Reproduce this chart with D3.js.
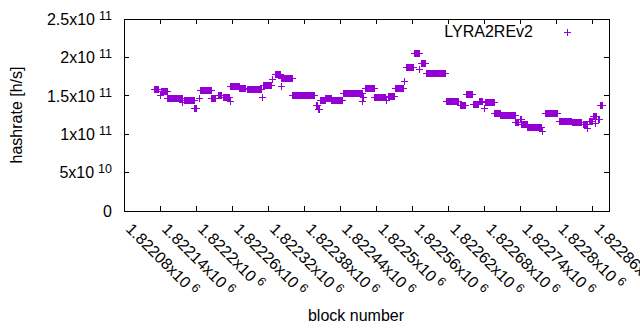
<!DOCTYPE html>
<html>
<head>
<meta charset="utf-8">
<script src="https://d3js.org/d3.v7.min.js"></script>
<style>
body { margin: 0; background: #fff; }
svg { font-family: 'Liberation Sans', Arial, sans-serif; }
.lbl { font-size: 16px; fill: #000; }
</style>
</head>
<body>
<svg id="chart"></svg>
<script>

// runs of consecutive blocks with the same hashrate (each block is one point)
var runStart = [
  1822130, 1822140, 1822143, 1822153, 1822178, 1822180, 1822198, 1822205, 1822207, 1822226,
  1822238, 1822245, 1822257, 1822258, 1822273, 1822285, 1822310, 1822312, 1822327, 1822332,
  1822342, 1822343, 1822361, 1822400, 1822404, 1822407, 1822416, 1822426, 1822445, 1822478,
  1822479, 1822482, 1822498, 1822517, 1822520, 1822532, 1822547, 1822550, 1822564, 1822573,
  1822575, 1822584, 1822617, 1822640, 1822650, 1822662, 1822672, 1822680, 1822682, 1822698,
  1822708, 1822733, 1822740, 1822743, 1822753, 1822777, 1822783, 1822805, 1822828, 1822845,
  1822853, 1822856, 1822862, 1822865, 1822870, 1822874];
var runEnd = [
  1822137, 1822140, 1822152, 1822177, 1822178, 1822197, 1822200, 1822205, 1822225, 1822233,
  1822242, 1822255, 1822257, 1822272, 1822283, 1822309, 1822310, 1822326, 1822327, 1822340,
  1822342, 1822360, 1822398, 1822403, 1822406, 1822415, 1822425, 1822444, 1822477, 1822478,
  1822479, 1822498, 1822516, 1822517, 1822531, 1822546, 1822547, 1822562, 1822572, 1822573,
  1822583, 1822616, 1822637, 1822649, 1822660, 1822671, 1822678, 1822680, 1822697, 1822707,
  1822732, 1822738, 1822742, 1822752, 1822776, 1822777, 1822802, 1822825, 1822843, 1822852,
  1822853, 1822860, 1822868, 1822865, 1822873, 1822877];
var runHash = [
  1.58e11, 1.51e11, 1.56e11, 1.46e11, 1.41e11, 1.44e11, 1.33e11, 1.46e11, 1.57e11, 1.47e11,
  1.51e11, 1.48e11, 1.42e11, 1.615e11, 1.595e11, 1.58e11, 1.48e11, 1.635e11, 1.71e11, 1.78e11,
  1.615e11, 1.72e11, 1.505e11, 1.38e11, 1.32e11, 1.44e11, 1.465e11, 1.445e11, 1.53e11, 1.42e11,
  1.48e11, 1.59e11, 1.48e11, 1.44e11, 1.49e11, 1.595e11, 1.68e11, 1.87e11, 2.05e11, 1.84e11,
  1.915e11, 1.795e11, 1.425e11, 1.38e11, 1.517e11, 1.39e11, 1.43e11, 1.33e11, 1.41e11, 1.27e11,
  1.25e11, 1.15e11, 1.19e11, 1.12e11, 1.09e11, 1.04e11, 1.27e11, 1.165e11, 1.15e11, 1.12e11,
  1.08e11, 1.165e11, 1.23e11, 1.145e11, 1.19e11, 1.38e11];

var xTicks = [1822080, 1822140, 1822200, 1822260, 1822320, 1822380, 1822440,
  1822500, 1822560, 1822620, 1822680, 1822740, 1822800, 1822860];
var yTicks = [0, 5e10, 1e11, 1.5e11, 2e11, 2.5e11];
var seriesName = "LYRA2REv2";

var W = 640, H = 330;
var margin = {left: 124, right: 31, top: 19, bottom: 119};
var iw = W - margin.left - margin.right, ih = H - margin.top - margin.bottom;
var col = "#9400d3";

var svg = d3.select("#chart").attr("width", W).attr("height", H);

var x = d3.scaleLinear().domain([1822080, 1822888]).range([margin.left, margin.left + iw]);
var y = d3.scaleLinear().domain([0, 2.5e11]).range([margin.top + ih, margin.top]);

// expand runs into points
var pts = [];
for (var i = 0; i < runStart.length; i++) {
  for (var b = runStart[i]; b <= runEnd[i]; b++) pts.push({b: b, h: runHash[i]});
}

function sciParts(v) {
  if (v === 0) return ["0", null];
  var e = Math.floor(Math.log10(v));
  var m = +(v / Math.pow(10, e)).toFixed(6);
  return [m + "x10", e];
}

// ticks on all four sides, pointing inward
var tk = svg.append("g").attr("stroke", "#000").attr("stroke-width", 1).attr("shape-rendering", "crispEdges");
yTicks.forEach(function (t) {
  tk.append("line").attr("x1", margin.left).attr("x2", margin.left + 5).attr("y1", y(t)).attr("y2", y(t));
  tk.append("line").attr("x1", margin.left + iw).attr("x2", margin.left + iw - 5).attr("y1", y(t)).attr("y2", y(t));
});
xTicks.forEach(function (t) {
  tk.append("line").attr("x1", x(t)).attr("x2", x(t)).attr("y1", margin.top + ih).attr("y2", margin.top + ih - 5);
  tk.append("line").attr("x1", x(t)).attr("x2", x(t)).attr("y1", margin.top).attr("y2", margin.top + 5);
});

// y tick labels
yTicks.forEach(function (t) {
  var p = sciParts(t);
  var tx = svg.append("text").attr("class", "lbl").attr("x", margin.left - 12).attr("y", y(t))
    .attr("dy", "0.36em").attr("text-anchor", "end");
  tx.append("tspan").text(p[0]);
  if (p[1] !== null) {
    tx.append("tspan").attr("dx", 4).attr("dy", -5).style("font-size", "12.5px").text(p[1]);
  }
});

// x tick labels, rotated
xTicks.forEach(function (t) {
  var m = +(t / 1e6).toFixed(5);
  var tx = svg.append("text").attr("class", "lbl")
    .attr("transform", "translate(" + (x(t) + 5) + "," + (margin.top + ih + 15) + ") rotate(45)")
    .attr("dy", "0.35em");
  tx.append("tspan").text(m + "x10");
  tx.append("tspan").attr("dx", 4).attr("dy", -5).style("font-size", "12.5px").text("6");
});

// axis titles
svg.append("text").attr("class", "lbl").attr("transform", "translate(16," + (margin.top + ih / 2) + ") rotate(-90)")
  .attr("dy", "0.36em").attr("text-anchor", "middle").text("hashrate [h/s]");
svg.append("text").attr("class", "lbl").attr("x", 356).attr("y", 321)
  .attr("text-anchor", "middle").text("block number");

// data points
var plus = "M-3.5,0H3.5M0,-3.5V3.5";
svg.append("g").selectAll("path").data(pts).join("path")
  .attr("transform", function (d) { return "translate(" + x(d.b) + "," + y(d.h) + ")"; })
  .attr("d", plus).attr("fill", "none").attr("stroke", col).attr("stroke-width", 1)
  .attr("shape-rendering", "crispEdges");

// key
svg.append("text").attr("class", "lbl").attr("x", 533).attr("y", 31).attr("dy", "0.36em")
  .attr("text-anchor", "end").text(seriesName);
svg.append("path").attr("transform", "translate(567,32)").attr("d", plus)
  .attr("fill", "none").attr("stroke", col).attr("shape-rendering", "crispEdges");

// border
svg.append("rect").attr("x", margin.left).attr("y", margin.top).attr("width", iw).attr("height", ih)
  .attr("fill", "none").attr("stroke", "#000").attr("stroke-width", 1).attr("shape-rendering", "crispEdges");

</script>
</body>
</html>
